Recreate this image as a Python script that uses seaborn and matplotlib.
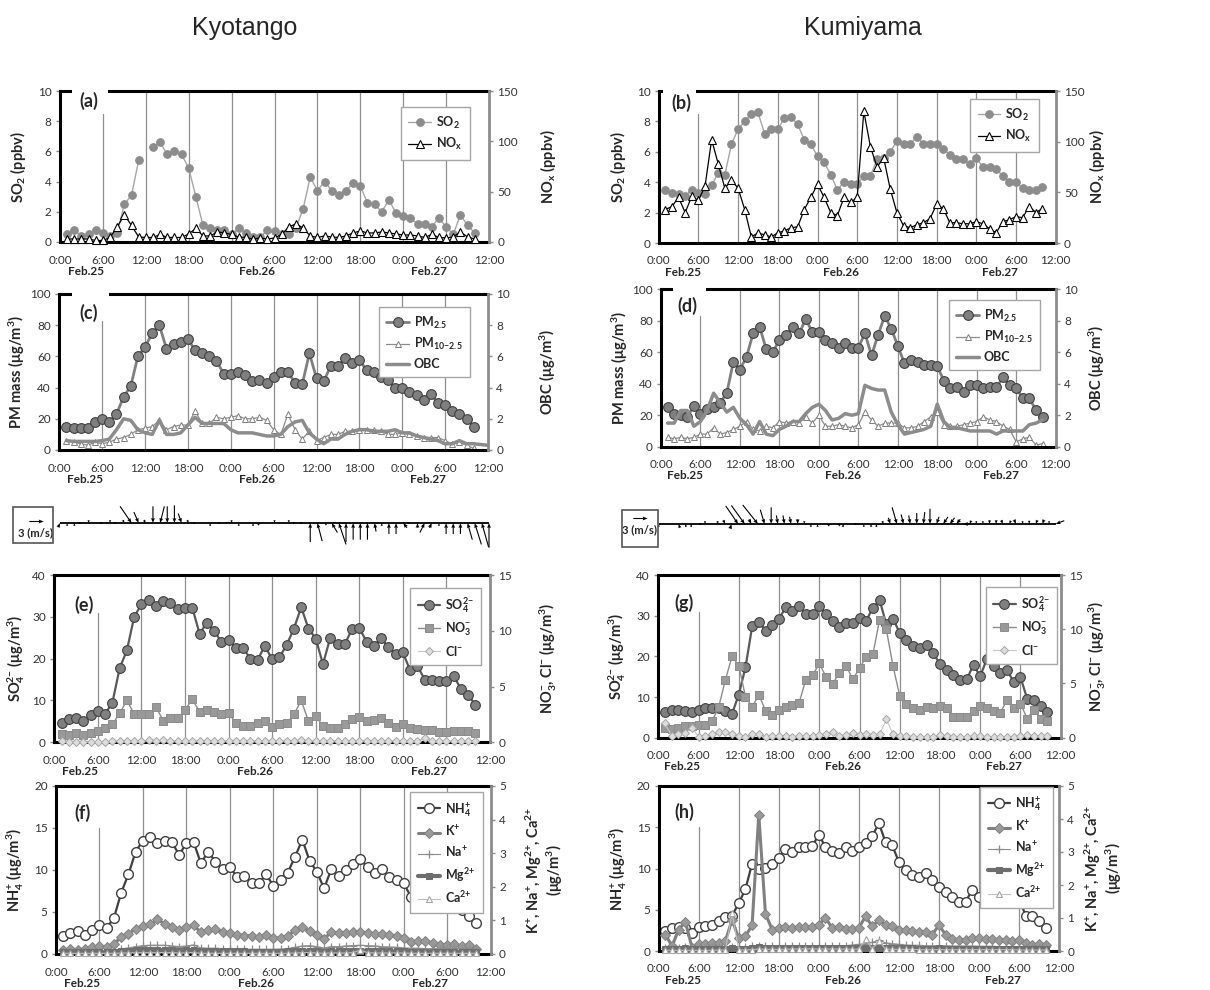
import numpy as np
import matplotlib
matplotlib.use("Agg")
import matplotlib.pyplot as plt
from matplotlib.patches import Rectangle
import seaborn as sns

nan = np.nan
# ---------------- data ----------------
hours = list(range(1, 59))
obc_hours_kyo = list(range(1, 61))
wind_hours = list(range(0, 61))
time_labels = ["0:00", "6:00", "12:00", "18:00", "0:00", "6:00", "12:00", "18:00", "0:00", "6:00", "12:00"]
date_labels = ["Feb.25", "Feb.26", "Feb.27"]
date_pos = [3.6, 27.6, 51.6]
sites = ["Kyotango", "Kumiyama"]

so2_a = [0.5,0.8,0.4,0.5,0.8,0.6,0.4,0.6,2.5,3.1, 5.4,nan,6.3,6.6,5.8,6.0,5.8,4.9,3.0,1.1,
         0.9,0.8,0.8,0.5,0.9,0.6,0.3,0.3,0.8,0.7, 0.5,0.5,0.9,2.2,4.3,3.4,4.0,3.4,3.1,3.4,
         3.9,3.7,2.6,2.5,2.0,2.8,1.9,1.7,1.6,1.2, 1.2,1.0,1.6,1.0,0.5,1.8,1.1,0.6]
nox_a = [3,3,3,3,1.5,1.5,4.5,15,27,16.5, 5,4.5,4.5,7.5,4.5,4.5,4.5,8,13.5,6,
         6,10,9,7.5,5,4.5,3,4,3,4, 7.5,15,18,14,6,4.5,6,5,4.5,6,
         9,11,9,9,10,9,8,7,7,6, 4.5,7.5,4.5,4,5,10,5,3]
so2_b = [3.5,3.3,3.2,3.1,3.5,3.3,3.2,3.8,4.6,4.5, 6.5,7.5,8.0,8.5,8.6,7.2,7.5,7.5,8.2,8.3,
         7.8,6.8,6.5,5.7,5.3,4.5,3.5,4.0,3.9,3.9, 4.4,4.4,5.5,5.6,6.0,6.7,6.5,6.5,7.0,6.5,
         6.5,6.5,6.2,5.8,5.5,5.5,5.2,5.6,5.0,5.0, 4.9,4.4,4.0,4.0,3.6,3.5,3.5,3.7]
nox_b = [33,36,45,30,46,42,56,102,78,54, 62,54,33,6,10,8,6,10,12,15,
         16,33,45,58,45,30,27,45,40,45, 130,95,75,84,53,30,17,15,18,20,
         24,38,34,20,20,19,19,21,19,14, 10,21,23,26,25,36,30,34]

pm25_c = [15,14,14,14,18,20,18,23,34,41, 60,66,75,80,65,68,69,71,64,62,
          60,57,49,49,50,48,44,45,43,47, 50,50,43,42,62,46,44,54,54,59,
          56,58,51,50,47,45,40,40,37,35, 32,36,30,29,25,23,20,15]
pmc_c = [6,5,4,3,5,4,5,7,8,10, 13,14,15,19,13,15,16,16,25,17,
         17,21,20,21,22,20,20,21,19,13, 10,23,13,7,12,6,8,10,10,12,
         12,13,13,13,12,10,10,11,10,9, 8,8,8,6,4,5,3,1]
obc_c = [0.6,0.55,0.55,0.55,0.55,0.6,0.7,1.3,2.0,1.9, 1.3,1.1,1.0,1.9,1.0,1.0,1.1,1.6,2.1,1.7,
         1.7,1.7,1.7,1.3,1.1,1.1,1.1,1.0,0.9,0.9, 1.0,1.5,1.8,1.9,1.1,0.7,0.4,0.7,0.7,1.0,
         1.2,1.3,1.3,1.2,1.2,1.2,1.3,1.1,1.1,0.9, 0.8,0.7,0.6,0.4,0.4,0.6,0.4,0.4,0.35,0.3]
pm25_d = [25,21,20,19,26,21,24,25,28,34, 54,49,57,72,76,62,60,68,71,76,
          72,81,73,73,68,66,63,66,63,63, 72,58,71,83,75,64,53,55,54,52,
          52,51,42,37,38,35,39,39,37,38, 38,44,39,37,31,31,23,19]
pmc_d = [6,5,6,5,6,8,8,12,8,9, 11,13,16,11,10,13,12,16,15,16,
         15,19,15,20,13,13,14,13,12,14, 22,17,13,15,15,15,12,12,13,16,
         19,22,14,13,13,14,15,16,19,17, 16,13,11,3,5,6,1,2]
obc_d = [1.5,1.5,2.3,2.3,1.3,1.6,2.3,3.4,2.8,2.2, 2.5,1.8,1.4,0.8,1.6,0.8,0.7,1.1,1.3,1.6,
         1.6,2.1,2.5,2.7,2.3,1.7,1.8,2.1,2.0,2.1, 3.9,3.7,3.6,3.6,2.2,1.4,0.8,0.9,1.0,1.1,
         1.3,2.7,1.6,1.2,1.2,1.1,1.0,1.0,1.0,1.0, 0.8,1.0,1.0,1.0,1.0,1.4,1.5,1.7]

kyo_u = [0.4,0,0,0.6,0,0,0.6,0,0.6,0.3, 2.4,1.0,0.4,0,-0.9,0,0,0.7,0.3,0.6,
         0,0,-0.6,-0.6,0,0,0,0,0.5,0, 0,0,0,0.6,0.6,0,-1.0,-0.4,-1.2,-1.5,
         0,0,0,0,-0.3,0,0,0,-0.8,0.6, 0,1.0,0.5,0,0,0,0,-1.0,-1.4,-1.4, 0]
kyo_v = [0.9,0.6,0.6,0,-0.6,0,0,-0.6,0,-0.6, -3.5,-2.3,-0.6,-3.5,-3.5,-3.5,-3.7,-2.0,-0.6,0,
         0,0.6,0,0,-0.6,0.6,0,0.6,0.4,0, -0.6,0,-0.6,0,0,4.0,3.8,0.4,2.0,4.5,
         4.0,3.5,3.5,3.5,1.8,0.6,2.3,2.3,1.0,0, 1.0,2.0,1.0,0.6,2.3,2.3,2.3,3.5,4.5,5.0, 5.2]
kum_u = [0,0,0,-0.3,-0.2,0.2,-0.6,0,0,0.2, 0.3,0.3,2.6,2.8,0.5,3.2,0.9,0,0.3,0.3,
         0.3,0,0,0,0,0,0.6,-0.6,0.3,0, 0.6,0,-0.2,0.2,0.3,0.4,1.0,0.5,0.3,0,
         -0.3,0,-0.5,-1.0,-1.0,-0.8,-1.5,-0.3,0,0, 0,0,0.3,-0.3,0.4,0,0,-0.3,-0.3,0, -1.8]
kum_v = [0.6,0,0,0.8,0.6,0.6,0,-0.6,0,-0.6, -0.8,1.0,-3.8,-3.9,-1.0,-4.0,-3.0,-3.5,-1.8,-1.8,
         -1.5,-1.0,-0.6,0.6,0.6,0,0.3,0.3,0.6,0, 0,0.6,0.6,0.6,-0.6,-1.3,-3.5,-2.0,-1.8,-2.3,
         -2.5,-3.2,-1.5,-1.5,-1.3,-1.0,0,-0.7,-0.6,-0.6, -0.8,-0.8,-0.8,-0.7,-0.9,-0.6,-0.7,-0.8,-0.9,-0.6, -0.7]

so4_e = [4.5,5.5,5.8,5.2,6.5,7.5,6.8,9.5,17.7,22, 30,33,34,32.5,33.7,33.2,31.8,32,32.2,26,
         28.5,26.7,24,24.5,22.5,22.5,20,19.7,23.1,19.8, 20.3,23.3,27.2,32.3,27.2,24.8,18.7,25,23.5,23.5,
         27,27.3,24.1,23,24.9,22.7,21,21.5,17.2,18.3, 15,15,14.6,14.6,15.8,12.8,11.2,9]
no3_e = [0.71,0.68,0.83,0.64,0.86,1.05,1.31,1.6,2.6,3.75, 2.55,2.5,2.55,3.15,1.95,2.15,2.15,2.9,3.85,2.75,
         2.9,2.7,2.55,2.65,1.7,1.5,1.5,1.7,1.9,1.4, 1.65,1.7,2.5,3.75,1.9,2.35,1.45,1.3,1.3,1.65,
         2.05,2.3,1.9,2.0,2.2,1.7,1.4,1.65,1.3,1.2, 1.1,1.1,0.95,0.9,0.98,0.98,0.98,0.8]
cl_e = [0.08,0.05,0.04,0.05,0.06,0.06,0.06,0.08,0.12,0.12, 0.12,0.1,0.18,0.15,0.18,0.15,0.12,0.12,0.15,0.12,
        0.12,0.15,0.12,0.12,0.1,0.1,0.1,0.12,0.1,0.1, 0.1,0.1,0.15,0.18,0.15,0.12,0.12,0.12,0.12,0.12,
        0.12,0.15,0.15,0.15,0.15,0.15,0.12,0.1,0.1,0.1, 0.4,0.12,0.12,0.1,0.08,0.1,0.1,0.1]
so4_g = [6.2,6.7,6.8,6.6,6.2,6.8,7.2,7.2,7.3,6.6, 5.9,10.6,17.3,27.4,28.5,26.3,27.7,29.2,32.1,31.1,
         32.4,30.3,30.4,32.5,30.3,28.6,27.1,28.3,28.1,29.4, 28.8,31.9,33.8,27.9,29.3,25.7,23.9,22.6,22.1,22.9,
         20.8,18.1,16.7,15.4,14.3,14.4,17.9,15.1,19.4,17.6, 15.8,16.6,13.7,14.9,9.6,9.2,7.8,6.2]
no3_g = [0.9,0.83,0.86,1.05,1.05,1.13,1.16,1.5,2.81,5.33, 7.5,6.64,3.79,2.85,3.94,2.48,2.1,2.51,2.85,3.04,
         3.23,5.36,5.74,6.86,5.63,4.99,5.96,6.64,5.4,6.38, 7.46,7.69,10.88,9.98,6.6,3.86,3.08,2.78,2.55,2.81,
         2.74,2.89,2.74,1.91,1.91,1.91,2.48,2.93,2.7,2.48, 2.29,3.49,2.74,3.15,1.76,2.59,1.76,1.5]
cl_g = [1.31,0.15,0.34,0.41,0.94,0.11,0.19,0.34,0.53,0.49, 0.34,0.15,0.11,0.3,0.34,0.11,0.15,0.15,0.15,0.11,
        0.15,0.19,0.19,0.26,0.38,0.56,0.19,0.23,0.41,0.23, 0.38,0.26,0.3,1.69,0.3,0.19,0.19,0.11,0.11,0.08,
        0.11,0.23,0.19,0.04,0.08,0.08,0.15,0.15,0.11,0.08, 0.08,0.08,0.04,0.15,0.23,0.15,0.15,0.15]

nh4_f = [2.1,2.5,2.7,2.3,2.9,3.4,3.1,4.3,7.3,9.5, 12.2,13.5,13.9,13.2,13.4,13.3,11.8,13.2,13.3,10.8,
         12.2,11.0,10.1,10.3,9.2,9.3,8.4,8.4,9.5,8.1, 8.8,9.7,11.6,13.6,11.1,9.8,7.8,10.1,9.3,10.0,
         10.7,11.3,10.3,9.6,10.1,9.2,8.8,8.4,6.8,7.2, 5.9,5.9,5.8,5.8,6.1,5.2,4.5,3.7]
k_f = [0.13,0.15,0.13,0.15,0.2,0.23,0.2,0.3,0.5,0.6, 0.75,0.83,0.88,1.03,0.9,0.8,0.7,0.8,0.85,0.65,
       0.7,0.73,0.65,0.63,0.58,0.55,0.55,0.5,0.58,0.48, 0.48,0.55,0.7,0.8,0.68,0.58,0.45,0.65,0.63,0.63,
       0.65,0.65,0.63,0.6,0.6,0.58,0.53,0.48,0.35,0.4, 0.38,0.33,0.28,0.28,0.3,0.23,0.28,0.15]
na_f = [0.08,0.08,0.08,0.08,0.08,0.09,0.09,0.10,0.15,0.18, 0.22,0.25,0.26,0.26,0.26,0.24,0.22,0.24,0.27,0.18,
        0.17,0.17,0.16,0.15,0.15,0.14,0.14,0.14,0.14,0.14, 0.15,0.16,0.20,0.24,0.25,0.22,0.18,0.22,0.22,0.24,
        0.25,0.26,0.25,0.24,0.22,0.21,0.20,0.18,0.17,0.17, 0.16,0.16,0.16,0.16,0.17,0.16,0.16,0.15]
mg_f = [0.05,0.05,0.05,0.05,0.05,0.05,0.05,0.06,0.08,0.10, 0.12,0.13,0.12,0.12,0.12,0.11,0.10,0.11,0.12,0.09,
        0.09,0.09,0.08,0.08,0.08,0.08,0.07,0.07,0.07,0.07, 0.07,0.08,0.09,0.10,0.09,0.08,0.07,0.08,0.08,0.09,
        0.09,0.10,0.09,0.09,0.09,0.08,0.08,0.08,0.07,0.07, 0.07,0.06,0.06,0.06,0.06,0.05,0.05,0.05]
ca_f = [0.02,0.02,0.02,0.02,0.02,0.02,0.02,0.02,0.03,0.03, 0.04,0.04,0.04,0.04,0.04,0.04,0.03,0.03,0.04,0.02,
        0.02,0.02,0.02,0.02,0.02,0.02,0.02,0.02,0.02,0.02, 0.02,0.02,0.03,0.04,0.04,0.03,0.02,0.03,0.03,0.03,
        0.04,0.12,0.04,0.03,0.03,0.03,0.03,0.03,0.02,0.02, 0.02,0.02,0.02,0.02,0.02,0.02,0.02,0.02]
nh4_h = [2.4,2.8,2.9,2.8,2.2,2.9,3.0,3.2,3.6,4.1, 4.3,5.8,7.5,10.6,9.9,10.1,10.6,11.3,12.4,12.0,
         12.6,12.6,12.7,14.1,12.6,12.1,11.9,12.6,12.1,12.6, 13.1,13.9,15.5,13.2,12.8,10.8,9.8,9.2,9.0,9.5,
         8.6,7.8,7.1,6.5,5.9,6.0,7.4,6.6,7.9,7.2, 6.6,7.2,5.9,6.4,4.3,4.2,3.6,2.8]
k_h = [0.5,0.15,0.65,0.88,0.1,0.2,0.2,0.23,0.25,0.3, 0.95,0.38,0.45,0.78,4.13,1.13,0.65,0.7,0.73,0.7,
       0.73,0.73,0.73,0.8,1.0,0.7,0.73,0.68,0.68,0.7, 1.05,0.75,0.93,0.78,0.75,0.65,0.63,0.6,0.58,0.58,
       0.5,0.78,0.5,0.35,0.33,0.33,0.38,0.38,0.35,0.35, 0.33,0.33,0.3,0.33,0.23,0.18,0.2,0.18]
na_h = [0.10,0.10,0.10,0.11,0.11,0.11,0.11,0.12,0.12,0.12, 0.13,0.13,0.13,0.14,0.14,0.14,0.14,0.14,0.14,0.14,
        0.14,0.14,0.15,0.15,0.15,0.15,0.16,0.16,0.18,0.20, 0.22,0.26,0.33,0.25,0.22,0.20,0.18,0.17,0.17,0.16,
        0.16,0.16,0.16,0.15,0.15,0.15,0.15,0.14,0.14,0.14, 0.13,0.13,0.13,0.13,0.12,0.12,0.12,0.12]
mg_h = [0.06,0.05,0.07,0.08,0.05,0.06,0.06,0.06,0.06,0.06, 0.1,0.07,0.07,0.08,0.12,0.09,0.08,0.08,0.08,0.08,
        0.08,0.08,0.08,0.08,0.09,0.08,0.08,0.08,0.08,0.08, 0.09,0.08,0.09,0.08,0.08,0.08,0.08,0.08,0.07,0.07,
        0.07,0.08,0.07,0.06,0.06,0.06,0.06,0.06,0.06,0.06, 0.06,0.06,0.06,0.06,0.05,0.05,0.05,0.05]
ca_h = [0.02,0.02,0.02,0.02,0.02,0.02,0.02,0.02,0.03,0.03, 1.15,0.03,0.03,0.04,0.06,0.05,0.05,0.05,0.05,0.06,
        0.06,0.07,0.06,0.06,0.06,0.06,0.06,0.06,0.05,0.06, 0.35,0.06,0.3,0.06,0.05,0.05,0.05,0.05,0.04,0.04,
        0.04,0.04,0.04,0.04,0.04,0.04,0.04,0.04,0.04,0.04, 0.04,0.04,0.04,0.03,0.03,0.03,0.03,0.03]

for arr in [so2_a, nox_a, so2_b, nox_b, pm25_c, pmc_c, pm25_d, pmc_d, obc_d, so4_e, no3_e, cl_e,
            so4_g, no3_g, cl_g, nh4_f, k_f, na_f, mg_f, ca_f, nh4_h, k_h, na_h, mg_h, ca_h]:
    assert len(arr) == 58, len(arr)
assert len(obc_c) == 60
for arr in [kyo_u, kyo_v, kum_u, kum_v]:
    assert len(arr) == 61

# ---------------- style ----------------
sns.set_theme(style="white")
plt.rcParams["font.family"] = ["Lato", "DejaVu Sans"]
plt.rcParams["mathtext.default"] = "regular"

W, H = 1210, 990
fig = plt.figure(figsize=(W / 100, H / 100), dpi=100)


def add_px(l, t, r, b):
    return fig.add_axes([l / W, 1 - b / H, (r - l) / W, (b - t) / H])


GRID = "#8f8f8f"
FS = 8.5
TXT = "#333333"


def line(ax, x, y, label=None, **kw):
    # segments split at missing values so gaps stay open
    seg = np.cumsum(np.isnan(np.asarray(y, dtype=float)))
    sns.lineplot(x=x, y=y, units=seg, estimator=None, ax=ax, label=label, clip_on=False, **kw)


STY = {
    "so2": dict(color="#a6a6a6", lw=1.0, marker="o", markersize=5.5, markerfacecolor="#8c8c8c", markeredgecolor="#8c8c8c"),
    "nox": dict(color="black", lw=0.9, marker="^", markersize=6, markerfacecolor="white", markeredgecolor="black", markeredgewidth=0.8),
    "pm25": dict(color="#7f7f7f", lw=2.0, marker="o", markersize=7, markerfacecolor="#7f7f7f", markeredgecolor="#404040", markeredgewidth=0.8),
    "pmc": dict(color="#8c8c8c", lw=0.9, marker="^", markersize=4, markerfacecolor="white", markeredgecolor="#7f7f7f", markeredgewidth=0.7),
    "obc": dict(color="#8c8c8c", lw=2.5),
    "so4": dict(color="#595959", lw=1.6, marker="o", markersize=7, markerfacecolor="#7f7f7f", markeredgecolor="#404040", markeredgewidth=0.8),
    "no3": dict(color="#8c8c8c", lw=1.0, marker="s", markersize=6, markerfacecolor="#999999", markeredgecolor="#8c8c8c", markeredgewidth=0.7),
    "cl": dict(color="#c8c8c8", lw=0.8, marker="D", markersize=4, markerfacecolor="#dcdcdc", markeredgecolor="#a6a6a6", markeredgewidth=0.7),
    "nh4": dict(color="#404040", lw=1.6, marker="o", markersize=7, markerfacecolor="white", markeredgecolor="#404040", markeredgewidth=1.0),
    "k": dict(color="#808080", lw=2.2, marker="D", markersize=5, markerfacecolor="#999999", markeredgecolor="#808080", markeredgewidth=0.7),
    "na": dict(color="#8c8c8c", lw=0.8, marker="+", markersize=6, markeredgecolor="#8c8c8c", markeredgewidth=0.9),
    "mg": dict(color="#6e6e6e", lw=3.0, marker="s", markersize=5, markerfacecolor="#6e6e6e", markeredgecolor="#6e6e6e"),
    "ca": dict(color="#bfbfbf", lw=0.8, marker="^", markersize=5, markerfacecolor="white", markeredgecolor="#a6a6a6", markeredgewidth=0.8),
}


def frame(ax, ax2, ylim, yt, ylim2, yt2, lab, lab2, lx, rx, six_top, letter, lpos, gap, legpos):
    ax.set_xlim(0, 60)
    ax.set_ylim(*ylim)
    ax.set_yticks(yt)
    ax2.set_ylim(*ylim2)
    ax2.set_yticks(yt2)
    ax.set_xticks(range(0, 61, 6))
    ax.set_xticklabels(time_labels)
    ax.set_xlabel("")
    ax2.set_xlabel("")
    for x in range(6, 60, 6):
        ax.axvline(x, ymin=0, ymax=six_top if x == 6 else 1, color=GRID, lw=0.9, zorder=0)
    for s in ["left", "top", "bottom"]:
        ax.spines[s].set_visible(True)
        ax.spines[s].set_color("black")
        ax.spines[s].set_linewidth(2.2)
        ax2.spines[s].set_visible(False)
    ax.spines["right"].set_visible(False)
    ax2.spines["right"].set_visible(True)
    ax2.spines["right"].set_color("#8c8c8c")
    ax2.spines["right"].set_linewidth(2.0)
    ax.tick_params(axis="x", bottom=False, length=0, pad=9, labelsize=FS, labelcolor=TXT)
    ax.tick_params(axis="y", left=True, length=3, width=1, color="#8c8c8c", pad=3, labelsize=FS, labelcolor=TXT)
    ax2.tick_params(axis="y", right=True, length=3, width=1, color="#8c8c8c", pad=3, labelsize=FS, labelcolor=TXT)
    ax.set_ylabel(lab, fontsize=10.5, fontweight="bold", va="center", ha="center")
    ax.yaxis.set_label_coords(lx, 0.5)
    ax2.set_ylabel(lab2, fontsize=10.5, fontweight="bold", va="center", ha="center", rotation=90,
                   multialignment="center", linespacing=1.05)
    ax2.yaxis.set_label_coords(rx, 0.5)
    for xs, dl in zip(date_pos, date_labels):
        ax.annotate(dl, xy=(xs, 0), xycoords=ax.get_xaxis_transform(), xytext=(0, -21),
                    textcoords="offset points", ha="center", va="center", fontsize=FS, fontweight="bold")
    if gap is not None:
        ax2.add_patch(Rectangle((gap[0], 0.96), gap[1] - gap[0], 0.08, transform=ax2.transAxes,
                                facecolor="white", edgecolor="none", clip_on=False, zorder=15))
    ax2.text(lpos[0], lpos[1], letter, transform=ax2.transAxes, fontsize=13, fontweight="bold",
             ha="center", va="center", zorder=20)
    h1, l1 = ax.get_legend_handles_labels()
    h2, l2 = ax2.get_legend_handles_labels()
    for a in (ax, ax2):
        if a.get_legend() is not None:
            a.get_legend().remove()
    hs, ls = [], []
    for h, l in zip(h1 + h2, l1 + l2):
        if l not in ls:
            hs.append(h)
            ls.append(l)
    leg = ax2.legend(hs, ls, loc="upper right", bbox_to_anchor=legpos, bbox_transform=ax2.transAxes,
                     frameon=True, fancybox=False, edgecolor="#a6a6a6", framealpha=1,
                     prop={"weight": "bold", "size": 9}, borderpad=0.6, labelspacing=0.45,
                     handlelength=1.8, handletextpad=0.4, borderaxespad=0)
    leg.get_frame().set_linewidth(1.0)
    leg.set_zorder(30)


# ---------------- titles ----------------
fig.text(245 / W, 1 - 28 / H, sites[0], fontsize=18, ha="center", va="center", family="Liberation Sans")
fig.text(863 / W, 1 - 28 / H, sites[1], fontsize=18, ha="center", va="center", family="Liberation Sans")

# ---------------- (a) / (b) ----------------
for (l, t, r, b), so2, nox, letter, lx, rx, lpos, gap, legpos in [
        ((60, 91, 489, 242), so2_a, nox_a, "(a)", -0.098, 1.138, (0.066, 0.934), (0.027, 0.113), (0.955, 0.894)),
        ((658.7, 91, 1055.7, 243), so2_b, nox_b, "(b)", -0.103, 1.104, (0.058, 0.92), (0.01, 0.095), (0.958, 0.947))]:
    ax = add_px(l, t, r, b)
    ax2 = ax.twinx()
    line(ax, hours, so2, "SO$_2$", **STY["so2"])
    line(ax2, hours, nox, "NO$_x$", **STY["nox"])
    frame(ax, ax2, (0, 10), range(0, 11, 2), (0, 150), range(0, 151, 50),
          "SO$_2$ (ppbv)", "NO$_x$ (ppbv)", lx, rx, 0.85, letter, lpos, gap, legpos)

# ---------------- (c) / (d) ----------------
for (l, t, r, b), pm25, pmc, obc_x, obc, letter, lx, rx, lpos, gap, legpos in [
        ((59.3, 294, 488, 450), pm25_c, pmc_c, obc_hours_kyo, obc_c, "(c)", -0.099, 1.14, (0.068, 0.88), (0.03, 0.115), (0.958, 0.917)),
        ((661, 289.3, 1055.7, 446.7), pm25_d, pmc_d, hours, obc_d, "(d)", -0.104, 1.104, (0.068, 0.894), (0.03, 0.115), (0.96, 0.932))]:
    ax = add_px(l, t, r, b)
    ax2 = ax.twinx()
    line(ax, hours, pm25, "PM$_{2.5}$", **STY["pm25"])
    line(ax, hours, pmc, "PM$_{10{-}2.5}$", **STY["pmc"])
    line(ax2, obc_x, obc, "OBC", **STY["obc"])
    frame(ax, ax2, (0, 100), range(0, 101, 20), (0, 10), range(0, 11, 2),
          "PM mass (μg/m$^3$)", "OBC (μg/m$^3$)", lx, rx, 0.83, letter, lpos, gap, legpos)

# ---------------- wind ----------------
for (l, t, r, b), u, v, key_xy, box in [
        ((60, 493, 489, 553), kyo_u, kyo_v, (35.5, 521), (13, 507, 53, 543)),
        ((658.7, 494, 1055.7, 554), kum_u, kum_v, (640, 518), (622, 510, 658, 547))]:
    axw = add_px(l, t, r, b)
    axw.set_xlim(0, 60)
    axw.set_ylim(-1, 1)
    axw.axis("off")
    axw.axhline(0, color="black", lw=1.3, zorder=1)
    q = axw.quiver(wind_hours, np.zeros(len(wind_hours)), u, v, pivot="tip", angles="uv",
                   scale_units="inches", scale=21, units="inches", width=0.011,
                   headwidth=3.5, headlength=4.5, headaxislength=4.0, minlength=0,
                   color="black", zorder=2, clip_on=False)
    axw.quiverkey(q, key_xy[0] / W, 1 - key_xy[1] / H, 3, "3 (m/s)", labelpos="S",
                  coordinates="figure", labelsep=0.06, fontproperties={"weight": "bold", "size": 8})
    fig.add_artist(Rectangle((box[0] / W, 1 - box[3] / H), (box[2] - box[0]) / W, (box[3] - box[1]) / H,
                             transform=fig.transFigure, fill=False, edgecolor="#555555", lw=1.2))

# ---------------- (e) / (g) ----------------
for (l, t, r, b), so4, no3, cl, letter, lx, rx, lpos, legpos in [
        ((54.3, 575, 490, 742.3), so4_e, no3_e, cl_e, "(e)", -0.088, 1.135, (0.068, 0.82), (0.98, 0.922)),
        ((658.3, 575, 1060.7, 737.7), so4_g, no3_g, cl_g, "(g)", -0.103, 1.09, (0.064, 0.826), (0.99, 0.926))]:
    ax = add_px(l, t, r, b)
    ax2 = ax.twinx()
    line(ax, hours, so4, "SO$_4^{2{-}}$", **STY["so4"])
    line(ax2, hours, no3, "NO$_3^{{-}}$", **STY["no3"])
    line(ax2, hours, cl, "Cl$^{{-}}$", **STY["cl"])
    frame(ax, ax2, (0, 40), range(0, 41, 10), (0, 15), range(0, 16, 5),
          "SO$_4^{2{-}}$ (μg/m$^3$)", "NO$_3^{{-}}$, Cl$^{{-}}$ (μg/m$^3$)", lx, rx, 0.77, letter, lpos, None, legpos)

# ---------------- (f) / (h) ----------------
for (l, t, r, b), nh4, k, na, mg, ca, letter, lx, rx, lpos, legpos in [
        ((56, 786, 490.7, 954), nh4_f, k_f, na_f, mg_f, ca_f, "(f)", -0.094, 1.123, (0.061, 0.84), (0.982, 0.964)),
        ((658.7, 786, 1059, 951), nh4_h, k_h, na_h, mg_h, ca_h, "(h)", -0.102, 1.11, (0.063, 0.844), (0.985, 0.994))]:
    ax = add_px(l, t, r, b)
    ax2 = ax.twinx()
    line(ax, hours, nh4, "NH$_4^{{+}}$", **STY["nh4"])
    line(ax2, hours, k, "K$^{{+}}$", **STY["k"])
    line(ax2, hours, na, "Na$^{{+}}$", **STY["na"])
    line(ax2, hours, mg, "Mg$^{2{+}}$", **STY["mg"])
    line(ax2, hours, ca, "Ca$^{2{+}}$", **STY["ca"])
    frame(ax, ax2, (0, 20), range(0, 21, 5), (0, 5), range(0, 6, 1),
          "NH$_4^{{+}}$ (μg/m$^3$)", "K$^{{+}}$, Na$^{{+}}$, Mg$^{2{+}}$, Ca$^{2{+}}$\n(μg/m$^3$)",
          lx, rx, 0.75, letter, lpos, None, legpos)

fig.savefig("out.png", dpi=100, facecolor="white")
